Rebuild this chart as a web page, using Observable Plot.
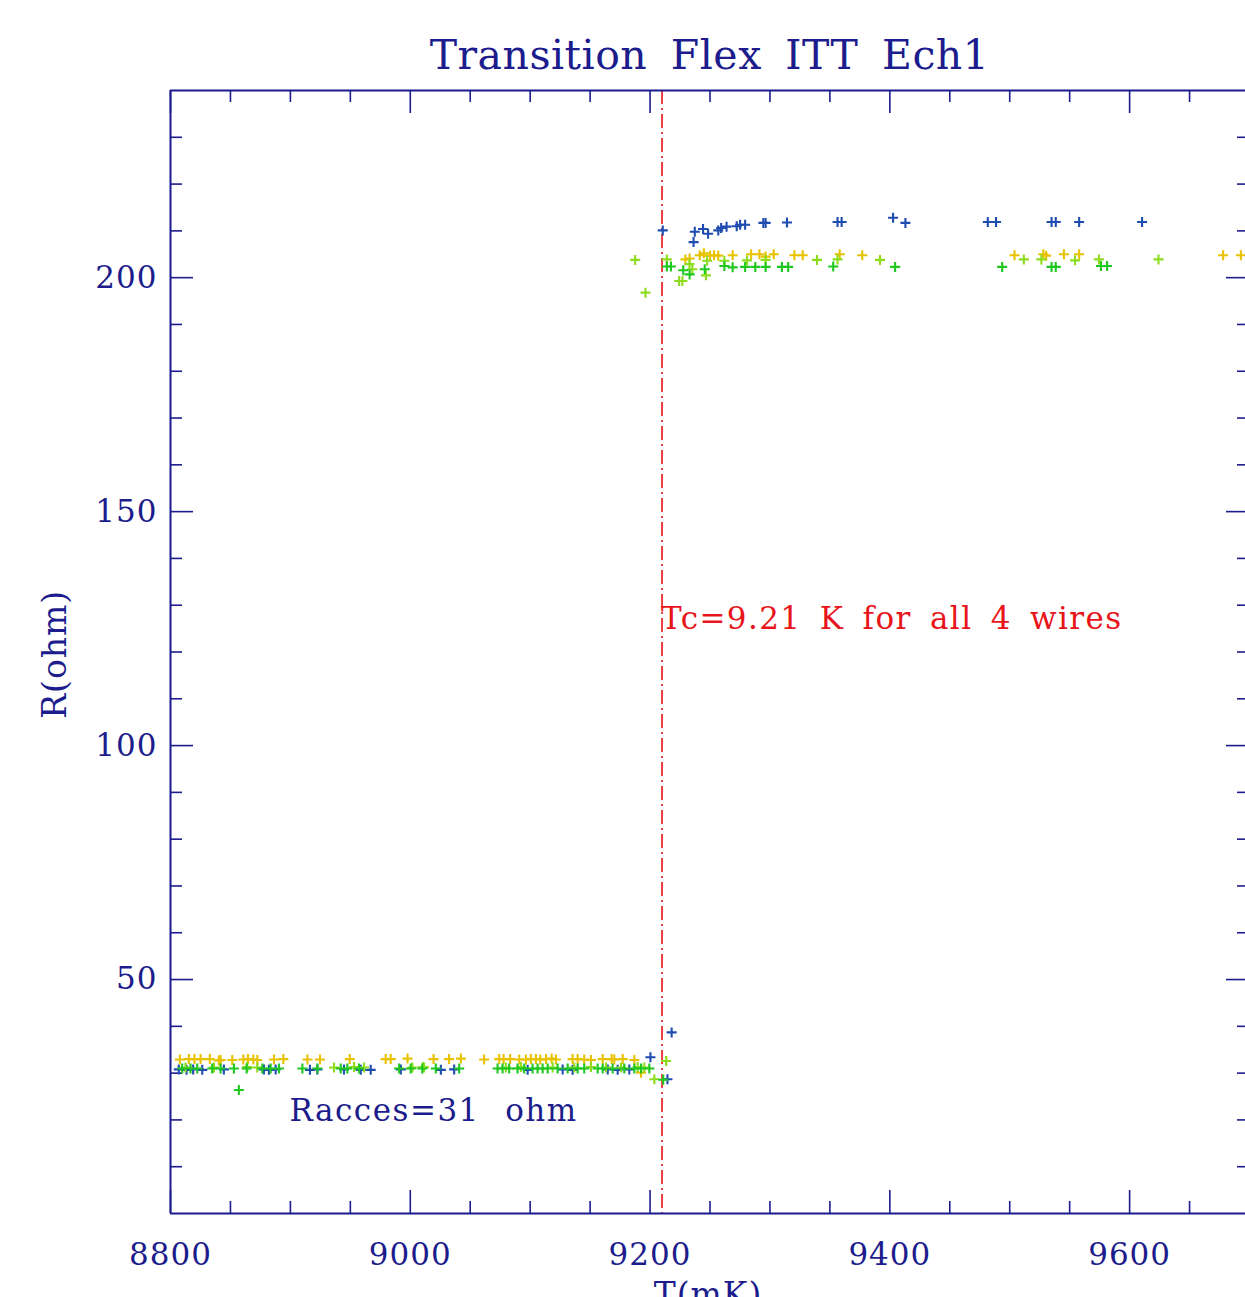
<!DOCTYPE html>
<html><head><meta charset="utf-8">
<script src="https://cdn.jsdelivr.net/npm/d3@7"></script>
<script src="https://cdn.jsdelivr.net/npm/@observablehq/plot@0.6"></script>
<style>
html,body{margin:0;padding:0;background:#fff;overflow:hidden;}
#title{box-sizing:border-box;width:1249px;height:80px;padding-left:170px;padding-top:35px;text-align:center;font:41px/1 "DejaVu Serif";color:#1c1c8c;word-spacing:10px;letter-spacing:0.5px;white-space:nowrap}
#chart svg text{letter-spacing:1px}
</style></head><body>
<div id="title">Transition Flex ITT Ech1</div>
<div id="chart"></div>
<script>
// ---------- data ----------
const titleText = "Transition Flex ITT Ech1";
const xLabel = "T(mK)";
const yLabel = "R(ohm)";
const xMajorTicks = [8800, 9000, 9200, 9400, 9600];
const xMinorTicks = [8850, 8900, 8950, 9050, 9100, 9150, 9250, 9300, 9350, 9450, 9500, 9550, 9650];
const yMajorTicks = [50, 100, 150, 200];
const yMinorTicks = [10, 20, 30, 40, 60, 70, 80, 90, 110, 120, 130, 140, 160, 170, 180, 190, 210, 220, 230];
const tcValue = 9210;
const annotations = [
  {T: 9210, R: 127.0, text: "Tc=9.21 K for all 4 wires", color: "red"},
  {T: 8900, R: 21.9, text: "Racces=31 ohm", color: "navy"}
];
const yLabelCenter = 119.5;
const wireNames = ["wire 1", "wire 2", "wire 3", "wire 4"];

// wire 1 (blue): [T (mK), R (ohm)]
const wire1 = [
  [8806.9,30.8],[8813.4,30.7],[8818.9,30.8],[8826.5,30.7],[8844.5,30.8],[8877.9,30.8],[8882.1,30.7],[8887.7,30.8],
  [8916.3,30.7],[8922.5,30.8],[8944.7,30.8],[8958.7,30.7],[8967.0,30.7],[8992.1,30.8],[9025.5,30.7],[9036.6,30.8],
  [9097.9,30.7],[9127.1,30.8],[9135.4,30.7],[9164.7,30.8],[9173.0,30.7],[9182.7,30.8],[9200.3,33.4],[9214.5,28.7],[9218.0,38.7],
  [9210.6,210.1],[9236.3,207.6],[9237.3,209.8],[9244.2,210.4],[9248.4,209.4],[9256.9,210.1],[9259.3,210.6],[9263.8,210.9],
  [9272.3,211.0],[9275.1,211.3],[9279.3,211.3],[9294.5,211.7],[9296.4,211.7],[9314.2,211.8],[9356.4,211.9],[9359.8,211.9],
  [9402.7,212.8],[9413.0,211.7],[9481.7,211.9],[9488.6,211.9],[9534.9,211.9],[9538.4,211.9],[9557.9,211.9],[9610.4,211.9]
];
// wire 2 (gold)
const wire2 = [
  [8807.8,32.9],[8815.3,33.0],[8820.0,33.0],[8825.1,33.0],[8832.8,33.0],[8840.3,32.7],[8841.8,32.8],[8851.5,32.8],
  [8860.7,32.9],[8864.6,33.0],[8869.1,32.9],[8872.4,32.8],[8886.3,32.9],[8894.1,33.0],[8914.2,32.9],[8924.7,32.9],
  [8949.5,33.0],[8979.5,33.0],[8983.7,33.0],[8997.7,33.1],[9019.4,33.0],[9032.4,33.0],[9042.2,33.1],[9061.6,32.9],
  [9074.2,33.0],[9077.8,33.0],[9083.3,33.0],[9090.9,32.9],[9096.5,32.9],[9100.6,33.0],[9104.8,33.0],[9108.4,32.9],
  [9113.2,33.0],[9117.9,33.1],[9121.5,32.9],[9135.4,33.0],[9139.6,33.0],[9145.1,32.9],[9150.7,32.8],[9160.5,33.0],
  [9168.0,33.0],[9170.2,32.9],[9177.2,33.0],[9186.9,32.8],[9192.5,30.1],[9213.4,32.6],
  [9229.5,203.9],[9233.0,204.1],[9241.4,204.8],[9244.9,205.2],[9250.0,204.7],[9253.4,204.8],[9256.9,204.7],[9268.9,204.8],
  [9284.3,205.0],[9291.2,205.0],[9296.4,204.5],[9303.2,205.0],[9320.4,204.8],[9327.3,204.8],[9358.2,205.0],[9377.0,204.8],
  [9504.0,204.8],[9528.0,205.0],[9530.4,204.7],[9545.2,205.0],[9557.9,205.0],[9678.0,204.8],[9692.8,204.8]
];
// wire 3 (yellow-green)
const wire3 = [
  [8812.5,31.2],[8836.2,31.2],[8864.0,31.3],[8872.4,31.2],[8936.4,31.2],[8953.1,31.3],[8961.5,31.2],[9001.8,31.2],
  [9010.7,31.3],[9011.5,31.2],[9079.7,31.2],[9092.3,31.3],[9118.8,31.2],[9136.8,31.2],[9150.7,31.3],[9163.3,31.2],
  [9175.8,31.2],[9189.7,31.3],[9195.2,31.2],[9203.6,28.7],[9213.4,32.6],
  [9187.6,203.8],[9196.2,196.8],[9214.0,203.9],[9224.3,199.3],[9227.0,199.3],[9232.9,202.9],[9235.2,201.8],[9246.6,200.5],
  [9247.6,203.6],[9262.0,203.6],[9280.9,203.7],[9296.4,203.8],[9339.3,203.8],[9356.4,203.9],[9391.8,203.8],[9511.8,203.9],
  [9526.4,203.9],[9554.5,203.7],[9574.4,203.9],[9624.1,203.9]
];
// wire 4 (green)
const wire4 = [
  [8809.7,31.0],[8816.7,31.0],[8822.3,31.0],[8834.8,31.0],[8841.8,31.0],[8852.9,31.0],[8857.0,26.4],[8863.5,31.0],
  [8876.6,31.0],[8883.5,31.0],[8890.5,31.0],[8910.0,31.0],[8922.5,31.0],[8942.0,31.0],[8947.5,31.0],[8957.3,31.0],
  [8990.7,31.0],[9000.4,31.0],[9010.0,31.0],[9021.3,31.0],[9040.8,31.0],[9072.8,31.0],[9077.0,31.0],[9082.5,31.0],
  [9089.5,31.0],[9095.0,31.0],[9102.0,31.0],[9106.2,31.0],[9110.4,31.0],[9114.6,31.0],[9122.9,31.0],[9131.3,31.0],
  [9139.6,31.0],[9145.1,31.0],[9156.3,31.0],[9160.5,31.0],[9168.8,31.0],[9178.5,31.0],[9186.9,31.0],[9192.5,31.0],
  [9199.4,31.0],[9211.0,28.6],
  [9214.0,202.4],[9217.4,202.4],[9227.7,201.6],[9233.0,200.7],[9245.6,201.8],[9262.0,202.5],[9268.9,202.2],[9279.3,202.3],
  [9287.8,202.3],[9296.4,202.3],[9310.0,202.3],[9315.2,202.3],[9352.8,202.4],[9404.4,202.3],[9493.7,202.3],[9534.9,202.3],
  [9538.4,202.3],[9576.1,202.5],[9581.2,202.5]
];

// ---------- styles ----------
const NAVY = "#1c1c8c";
const RED = "#e8141a";
const wireColors = ["#1f4cb0", "#e8c200", "#8edc1e", "#1ec81e"];
const FONT = "DejaVu Serif";

const table = [];
[wire1, wire2, wire3, wire4].forEach((w, i) => w.forEach(([T, R]) => table.push({wire: wireNames[i], T, R})));

const plusSymbol = {
  draw(ctx, size) {
    const r = Math.sqrt(size / Math.PI);
    ctx.moveTo(-r, 0); ctx.lineTo(r, 0);
    ctx.moveTo(0, -r); ctx.lineTo(0, r);
  }
};

const width = 1245, height = 1217;
const mt = 10, mb = 84, ml = 170, mr = 0;
const frameRight = 1249;            // right edge of the plot frame (just outside the picture)
const W = width - ml - mr, H = height - mt - mb;
const majorLen = 23, minorLen = 12;

const chart = Plot.plot({
  width, height,
  marginTop: mt, marginBottom: mb, marginLeft: ml, marginRight: mr,
  style: {fontFamily: FONT, color: NAVY, background: "#fff"},
  x: {domain: [8800, 9700], range: [ml, frameRight], axis: null},
  y: {domain: [0, 240], axis: null},
  color: {domain: wireNames, range: wireColors},
  marks: [
    // ticks (inward)
    Plot.tickX(xMajorTicks, {x: d => d, stroke: NAVY, strokeWidth: 1.6, insetTop: H - majorLen}),
    Plot.tickX(xMinorTicks, {x: d => d, stroke: NAVY, strokeWidth: 1.6, insetTop: H - minorLen}),
    Plot.tickX(xMajorTicks, {x: d => d, stroke: NAVY, strokeWidth: 1.6, insetBottom: H - majorLen}),
    Plot.tickX(xMinorTicks, {x: d => d, stroke: NAVY, strokeWidth: 1.6, insetBottom: H - minorLen}),
    Plot.tickY(yMajorTicks, {y: d => d, stroke: NAVY, strokeWidth: 1.6, insetRight: W - majorLen}),
    Plot.tickY(yMinorTicks, {y: d => d, stroke: NAVY, strokeWidth: 1.6, insetRight: W - minorLen}),
    Plot.tickY(yMajorTicks, {y: d => d, stroke: NAVY, strokeWidth: 1.6, insetLeft: frameRight - majorLen - ml}),
    Plot.tickY(yMinorTicks, {y: d => d, stroke: NAVY, strokeWidth: 1.6, insetLeft: frameRight - minorLen - ml}),
    // tick labels
    Plot.text(xMajorTicks, {x: d => d, text: d => String(d), frameAnchor: "bottom", lineAnchor: "top", dy: 29, fontSize: 31, fill: NAVY}),
    Plot.text(yMajorTicks, {y: d => d, text: d => String(d), frameAnchor: "left", textAnchor: "end", dx: -13, fontSize: 31, fill: NAVY}),
    // axis labels
    Plot.text([xLabel], {text: d => d, frameAnchor: "bottom", lineAnchor: "top", dy: 69, fontSize: 33, fill: NAVY}),
    Plot.text([yLabel], {text: d => d, y: () => yLabelCenter, frameAnchor: "left", textAnchor: "middle", lineAnchor: "middle",
      rotate: -90, dx: -115, fontSize: 33, fill: NAVY}),
    // Tc line
    Plot.ruleX([tcValue], {x: d => d, stroke: RED, strokeWidth: 1.6, strokeDasharray: "14,4,2,4"}),
    // data
    Plot.dot(table, {x: "T", y: "R", stroke: "wire", fill: "none", symbol: plusSymbol, r: 5, strokeWidth: 2.1}),
    // annotations
    Plot.text(annotations, {x: "T", y: "R", text: "text", textAnchor: "start", dx: -1,
      fill: d => d.color === "red" ? RED : NAVY, fontSize: 31}),
    // frame: left, bottom, top (right side lies beyond the picture)
    Plot.ruleX([8800], {x: d => d, stroke: NAVY, strokeWidth: 2}),
    Plot.ruleY([0, 240], {y: d => d, stroke: NAVY, strokeWidth: 2})
  ]
});
document.getElementById("chart").appendChild(chart);

// wider letter and word spacing of the plotting font for annotations
d3.select(chart).selectAll("text").each(function() {
  const t = this.textContent;
  if (t === annotations[0].text) d3.select(this).style("letter-spacing", "1.4px").style("word-spacing", "7px");
  if (t === annotations[1].text) d3.select(this).style("letter-spacing", "1.5px").style("word-spacing", "14px");
});
</script></body></html>
